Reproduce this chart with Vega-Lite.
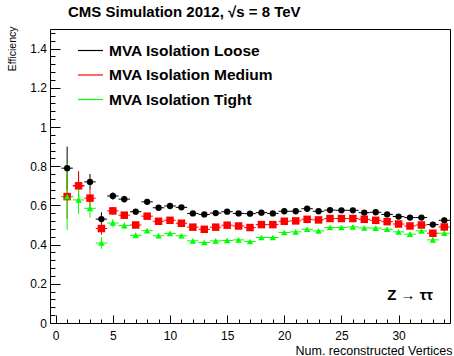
{
"$schema":"https://vega.github.io/schema/vega-lite/v6.json",
"width":400,"height":294,
"autosize":{"type":"none"},
"padding":{"left":50,"top":29,"right":4,"bottom":33},
"background":"white",
"config":{"font":"Liberation Sans","view":{"stroke":"black","strokeWidth":1},
"axis":{"domain":false,"grid":false,"tickColor":"black","tickWidth":1,"labelColor":"black","labelFont":"Liberation Sans","labelFontSize":12,"titleFont":"Liberation Sans","titleFontWeight":"normal","titleColor":"black"}},
"title":{"text":"CMS Simulation 2012, √s = 8 TeV","anchor":"start","frame":"group","dx":18,"dy":16,"offset":10,"fontSize":15,"fontWeight":"bold","font":"Liberation Sans","color":"black","baseline":"alphabetic"},
"data":{"values":[
{"s":"Loose","x":1,"xl":0.5,"xh":1.5,"y":0.79,"lo":0.68,"hi":0.9},
{"s":"Loose","x":2,"xl":1.5,"xh":2.5,"y":0.7,"lo":0.63,"hi":0.77},
{"s":"Loose","x":3,"xl":2.5,"xh":3.5,"y":0.72,"lo":0.68,"hi":0.76},
{"s":"Loose","x":4,"xl":3.5,"xh":4.5,"y":0.53,"lo":0.495,"hi":0.565},
{"s":"Loose","x":5,"xl":4.5,"xh":5.5,"y":0.648,"lo":0.63,"hi":0.666},
{"s":"Loose","x":6,"xl":5.5,"xh":6.5,"y":0.632,"lo":0.615,"hi":0.649},
{"s":"Loose","x":7,"xl":6.5,"xh":7.5,"y":0.568,"lo":0.555,"hi":0.581},
{"s":"Loose","x":8,"xl":7.5,"xh":8.5,"y":0.618,"lo":0.607,"hi":0.629},
{"s":"Loose","x":9,"xl":8.5,"xh":9.5,"y":0.588,"lo":0.578,"hi":0.598},
{"s":"Loose","x":10,"xl":9.5,"xh":10.5,"y":0.597,"lo":0.588,"hi":0.606},
{"s":"Loose","x":11,"xl":10.5,"xh":11.5,"y":0.59,"lo":0.582,"hi":0.598},
{"s":"Loose","x":12,"xl":11.5,"xh":12.5,"y":0.559,"lo":0.551,"hi":0.567},
{"s":"Loose","x":13,"xl":12.5,"xh":13.5,"y":0.554,"lo":0.547,"hi":0.561},
{"s":"Loose","x":14,"xl":13.5,"xh":14.5,"y":0.561,"lo":0.554,"hi":0.568},
{"s":"Loose","x":15,"xl":14.5,"xh":15.5,"y":0.568,"lo":0.561,"hi":0.575},
{"s":"Loose","x":16,"xl":15.5,"xh":16.5,"y":0.559,"lo":0.552,"hi":0.566},
{"s":"Loose","x":17,"xl":16.5,"xh":17.5,"y":0.558,"lo":0.551,"hi":0.565},
{"s":"Loose","x":18,"xl":17.5,"xh":18.5,"y":0.563,"lo":0.556,"hi":0.57},
{"s":"Loose","x":19,"xl":18.5,"xh":19.5,"y":0.559,"lo":0.552,"hi":0.566},
{"s":"Loose","x":20,"xl":19.5,"xh":20.5,"y":0.57,"lo":0.563,"hi":0.577},
{"s":"Loose","x":21,"xl":20.5,"xh":21.5,"y":0.57,"lo":0.563,"hi":0.577},
{"s":"Loose","x":22,"xl":21.5,"xh":22.5,"y":0.583,"lo":0.576,"hi":0.59},
{"s":"Loose","x":23,"xl":22.5,"xh":23.5,"y":0.57,"lo":0.563,"hi":0.577},
{"s":"Loose","x":24,"xl":23.5,"xh":24.5,"y":0.576,"lo":0.568,"hi":0.584},
{"s":"Loose","x":25,"xl":24.5,"xh":25.5,"y":0.575,"lo":0.567,"hi":0.583},
{"s":"Loose","x":26,"xl":25.5,"xh":26.5,"y":0.575,"lo":0.566,"hi":0.584},
{"s":"Loose","x":27,"xl":26.5,"xh":27.5,"y":0.563,"lo":0.554,"hi":0.572},
{"s":"Loose","x":28,"xl":27.5,"xh":28.5,"y":0.565,"lo":0.555,"hi":0.575},
{"s":"Loose","x":29,"xl":28.5,"xh":29.5,"y":0.554,"lo":0.543,"hi":0.565},
{"s":"Loose","x":30,"xl":29.5,"xh":30.5,"y":0.543,"lo":0.532,"hi":0.554},
{"s":"Loose","x":31,"xl":30.5,"xh":31.5,"y":0.538,"lo":0.526,"hi":0.55},
{"s":"Loose","x":32,"xl":31.5,"xh":32.5,"y":0.538,"lo":0.525,"hi":0.551},
{"s":"Loose","x":33,"xl":32.5,"xh":33.5,"y":0.502,"lo":0.488,"hi":0.516},
{"s":"Loose","x":34,"xl":33.5,"xh":34.5,"y":0.524,"lo":0.509,"hi":0.539},
{"s":"Medium","x":1,"xl":0.5,"xh":1.5,"y":0.645,"lo":0.53,"hi":0.76},
{"s":"Medium","x":2,"xl":1.5,"xh":2.5,"y":0.7,"lo":0.625,"hi":0.775},
{"s":"Medium","x":3,"xl":2.5,"xh":3.5,"y":0.637,"lo":0.59,"hi":0.68},
{"s":"Medium","x":4,"xl":3.5,"xh":4.5,"y":0.482,"lo":0.45,"hi":0.515},
{"s":"Medium","x":5,"xl":4.5,"xh":5.5,"y":0.572,"lo":0.552,"hi":0.592},
{"s":"Medium","x":6,"xl":5.5,"xh":6.5,"y":0.55,"lo":0.532,"hi":0.568},
{"s":"Medium","x":7,"xl":6.5,"xh":7.5,"y":0.5,"lo":0.487,"hi":0.513},
{"s":"Medium","x":8,"xl":7.5,"xh":8.5,"y":0.545,"lo":0.534,"hi":0.556},
{"s":"Medium","x":9,"xl":8.5,"xh":9.5,"y":0.519,"lo":0.509,"hi":0.529},
{"s":"Medium","x":10,"xl":9.5,"xh":10.5,"y":0.524,"lo":0.515,"hi":0.533},
{"s":"Medium","x":11,"xl":10.5,"xh":11.5,"y":0.509,"lo":0.501,"hi":0.517},
{"s":"Medium","x":12,"xl":11.5,"xh":12.5,"y":0.489,"lo":0.481,"hi":0.497},
{"s":"Medium","x":13,"xl":12.5,"xh":13.5,"y":0.478,"lo":0.471,"hi":0.485},
{"s":"Medium","x":14,"xl":13.5,"xh":14.5,"y":0.489,"lo":0.482,"hi":0.496},
{"s":"Medium","x":15,"xl":14.5,"xh":15.5,"y":0.499,"lo":0.492,"hi":0.506},
{"s":"Medium","x":16,"xl":15.5,"xh":16.5,"y":0.495,"lo":0.488,"hi":0.502},
{"s":"Medium","x":17,"xl":16.5,"xh":17.5,"y":0.487,"lo":0.48,"hi":0.494},
{"s":"Medium","x":18,"xl":17.5,"xh":18.5,"y":0.502,"lo":0.495,"hi":0.509},
{"s":"Medium","x":19,"xl":18.5,"xh":19.5,"y":0.502,"lo":0.495,"hi":0.509},
{"s":"Medium","x":20,"xl":19.5,"xh":20.5,"y":0.519,"lo":0.512,"hi":0.526},
{"s":"Medium","x":21,"xl":20.5,"xh":21.5,"y":0.521,"lo":0.514,"hi":0.528},
{"s":"Medium","x":22,"xl":21.5,"xh":22.5,"y":0.529,"lo":0.522,"hi":0.536},
{"s":"Medium","x":23,"xl":22.5,"xh":23.5,"y":0.526,"lo":0.519,"hi":0.533},
{"s":"Medium","x":24,"xl":23.5,"xh":24.5,"y":0.533,"lo":0.525,"hi":0.541},
{"s":"Medium","x":25,"xl":24.5,"xh":25.5,"y":0.533,"lo":0.525,"hi":0.541},
{"s":"Medium","x":26,"xl":25.5,"xh":26.5,"y":0.533,"lo":0.524,"hi":0.542},
{"s":"Medium","x":27,"xl":26.5,"xh":27.5,"y":0.529,"lo":0.52,"hi":0.538},
{"s":"Medium","x":28,"xl":27.5,"xh":28.5,"y":0.524,"lo":0.514,"hi":0.534},
{"s":"Medium","x":29,"xl":28.5,"xh":29.5,"y":0.517,"lo":0.506,"hi":0.528},
{"s":"Medium","x":30,"xl":29.5,"xh":30.5,"y":0.505,"lo":0.494,"hi":0.516},
{"s":"Medium","x":31,"xl":30.5,"xh":31.5,"y":0.495,"lo":0.483,"hi":0.507},
{"s":"Medium","x":32,"xl":31.5,"xh":32.5,"y":0.5,"lo":0.487,"hi":0.513},
{"s":"Medium","x":33,"xl":32.5,"xh":33.5,"y":0.458,"lo":0.444,"hi":0.472},
{"s":"Medium","x":34,"xl":33.5,"xh":34.5,"y":0.49,"lo":0.475,"hi":0.505},
{"s":"Tight","x":1,"xl":0.5,"xh":1.5,"y":0.645,"lo":0.475,"hi":0.815},
{"s":"Tight","x":2,"xl":1.5,"xh":2.5,"y":0.628,"lo":0.555,"hi":0.7},
{"s":"Tight","x":3,"xl":2.5,"xh":3.5,"y":0.585,"lo":0.537,"hi":0.633},
{"s":"Tight","x":4,"xl":3.5,"xh":4.5,"y":0.408,"lo":0.378,"hi":0.438},
{"s":"Tight","x":5,"xl":4.5,"xh":5.5,"y":0.51,"lo":0.49,"hi":0.53},
{"s":"Tight","x":6,"xl":5.5,"xh":6.5,"y":0.497,"lo":0.48,"hi":0.514},
{"s":"Tight","x":7,"xl":6.5,"xh":7.5,"y":0.447,"lo":0.434,"hi":0.46},
{"s":"Tight","x":8,"xl":7.5,"xh":8.5,"y":0.471,"lo":0.46,"hi":0.482},
{"s":"Tight","x":9,"xl":8.5,"xh":9.5,"y":0.445,"lo":0.435,"hi":0.455},
{"s":"Tight","x":10,"xl":9.5,"xh":10.5,"y":0.457,"lo":0.448,"hi":0.466},
{"s":"Tight","x":11,"xl":10.5,"xh":11.5,"y":0.445,"lo":0.437,"hi":0.453},
{"s":"Tight","x":12,"xl":11.5,"xh":12.5,"y":0.419,"lo":0.411,"hi":0.427},
{"s":"Tight","x":13,"xl":12.5,"xh":13.5,"y":0.411,"lo":0.404,"hi":0.418},
{"s":"Tight","x":14,"xl":13.5,"xh":14.5,"y":0.419,"lo":0.412,"hi":0.426},
{"s":"Tight","x":15,"xl":14.5,"xh":15.5,"y":0.421,"lo":0.414,"hi":0.428},
{"s":"Tight","x":16,"xl":15.5,"xh":16.5,"y":0.424,"lo":0.417,"hi":0.431},
{"s":"Tight","x":17,"xl":16.5,"xh":17.5,"y":0.416,"lo":0.409,"hi":0.423},
{"s":"Tight","x":18,"xl":17.5,"xh":18.5,"y":0.436,"lo":0.429,"hi":0.443},
{"s":"Tight","x":19,"xl":18.5,"xh":19.5,"y":0.436,"lo":0.429,"hi":0.443},
{"s":"Tight","x":20,"xl":19.5,"xh":20.5,"y":0.462,"lo":0.455,"hi":0.469},
{"s":"Tight","x":21,"xl":20.5,"xh":21.5,"y":0.465,"lo":0.458,"hi":0.472},
{"s":"Tight","x":22,"xl":21.5,"xh":22.5,"y":0.478,"lo":0.471,"hi":0.485},
{"s":"Tight","x":23,"xl":22.5,"xh":23.5,"y":0.47,"lo":0.463,"hi":0.477},
{"s":"Tight","x":24,"xl":23.5,"xh":24.5,"y":0.487,"lo":0.479,"hi":0.495},
{"s":"Tight","x":25,"xl":24.5,"xh":25.5,"y":0.487,"lo":0.479,"hi":0.495},
{"s":"Tight","x":26,"xl":25.5,"xh":26.5,"y":0.49,"lo":0.481,"hi":0.499},
{"s":"Tight","x":27,"xl":26.5,"xh":27.5,"y":0.485,"lo":0.476,"hi":0.494},
{"s":"Tight","x":28,"xl":27.5,"xh":28.5,"y":0.484,"lo":0.474,"hi":0.494},
{"s":"Tight","x":29,"xl":28.5,"xh":29.5,"y":0.478,"lo":0.467,"hi":0.489},
{"s":"Tight","x":30,"xl":29.5,"xh":30.5,"y":0.465,"lo":0.454,"hi":0.476},
{"s":"Tight","x":31,"xl":30.5,"xh":31.5,"y":0.453,"lo":0.441,"hi":0.465},
{"s":"Tight","x":32,"xl":31.5,"xh":32.5,"y":0.47,"lo":0.457,"hi":0.483},
{"s":"Tight","x":33,"xl":32.5,"xh":33.5,"y":0.424,"lo":0.41,"hi":0.438},
{"s":"Tight","x":34,"xl":33.5,"xh":34.5,"y":0.458,"lo":0.443,"hi":0.473}
]},
"resolve":{"axis":{"x":"independent","y":"independent"}},
"layer":[
{"mark":{"type":"rule","strokeWidth":1},
"encoding":{
"x":{"field":"xl","type":"quantitative","scale":{"domain":[-0.5,34.5],"nice":false,"zero":false},
"axis":{"orient":"bottom","values":[0,5,10,15,20,25,30],"tickSize":-8,"labelPadding":15,"format":"d","title":"Num. reconstructed Vertices","titleFontSize":12.5,"titleX":402,"titleY":31,"titleAlign":"right","titleBaseline":"alphabetic","titleAnchor":null}},
"x2":{"field":"xh"},
"y":{"field":"y","type":"quantitative","scale":{"domain":[0,1.5],"nice":false,"zero":false},
"axis":{"orient":"left","values":[0,0.2,0.4,0.6,0.8,1,1.2,1.4],"tickSize":-10,"labelPadding":13.5,"format":"~g","title":"Efficiency","titleFontSize":10.5,"titleAngle":-90,"titleX":-35,"titleY":-3,"titleAlign":"right","titleBaseline":"alphabetic","titleAnchor":null}},
"color":{"field":"s","type":"nominal","scale":{"domain":["Loose","Medium","Tight"],"range":["black","red","#00ff00"]},
"legend":{"orient":"none","legendX":27,"legendY":8,"title":null,"symbolType":"stroke","symbolSize":625,"symbolStrokeWidth":1.2,"labelFontSize":15.5,"labelFontWeight":"bold","labelFont":"Liberation Sans","labelColor":"black","labelLimit":400,"rowPadding":2.5,"labelOffset":5,"padding":0,"labelExpr":"'MVA Isolation ' + datum.label"}}}},
{"mark":{"type":"rule","strokeWidth":1},
"encoding":{
"x":{"field":"x","type":"quantitative","axis":{"orient":"bottom","values":[0,1,2,3,4,5,6,7,8,9,10,11,12,13,14,15,16,17,18,19,20,21,22,23,24,25,26,27,28,29,30,31,32,33,34],"tickSize":-4,"labels":false,"title":null}},
"y":{"field":"lo","type":"quantitative","axis":{"orient":"left","values":[0.04,0.08,0.12,0.16,0.24,0.28,0.32,0.36,0.44,0.48,0.52,0.56,0.64,0.68,0.72,0.76,0.84,0.88,0.92,0.96,1.04,1.08,1.12,1.16,1.24,1.28,1.32,1.36,1.44,1.48],"tickSize":-5,"labels":false,"title":null}},
"y2":{"field":"hi"},
"color":{"field":"s","type":"nominal"}}},
{"transform":[{"filter":"datum.s === 'Loose'"}],
"mark":{"type":"point","filled":true,"opacity":1,"shape":"circle","size":40,"color":"black"},
"encoding":{"x":{"field":"x","type":"quantitative","axis":null},"y":{"field":"y","type":"quantitative","axis":null}}},
{"transform":[{"filter":"datum.s === 'Medium'"}],
"mark":{"type":"point","filled":true,"opacity":1,"shape":"square","size":56,"color":"red"},
"encoding":{"x":{"field":"x","type":"quantitative","axis":null},"y":{"field":"y","type":"quantitative","axis":null}}},
{"transform":[{"filter":"datum.s === 'Tight'"}],
"mark":{"type":"point","filled":true,"opacity":1,"shape":"triangle-up","size":42,"color":"#00ff00"},
"encoding":{"x":{"field":"x","type":"quantitative","axis":null},"y":{"field":"y","type":"quantitative","axis":null}}},
{"data":{"values":[{"label":"Z → ττ"}]},
"mark":{"type":"text","font":"Liberation Sans","fontSize":15,"fontWeight":"bold","align":"left","baseline":"alphabetic","color":"black"},
"encoding":{"text":{"field":"label"},"x":{"datum":29,"axis":null},"y":{"datum":0.115,"axis":null}}}
]
}
